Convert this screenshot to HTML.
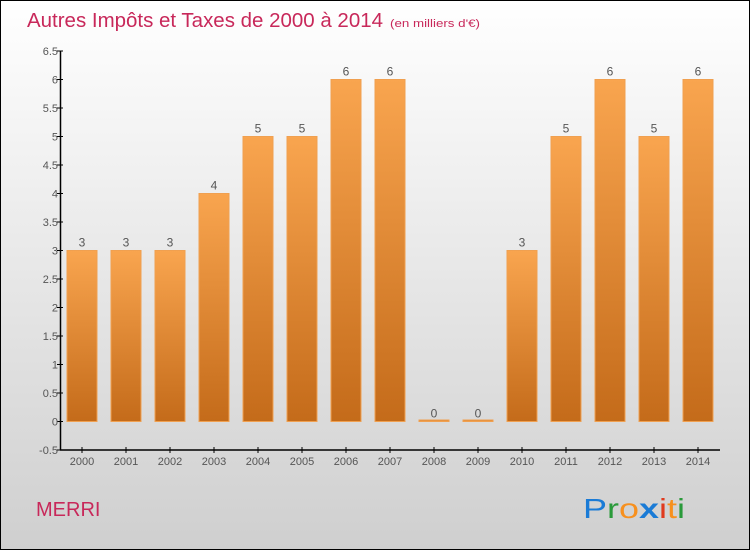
<!DOCTYPE html>
<html><head><meta charset="utf-8"><style>
body{margin:0;}
svg{display:block;font-family:"Liberation Sans",sans-serif;}
</style></head><body>
<svg id="c" width="750" height="550" xmlns="http://www.w3.org/2000/svg">
<defs>
<linearGradient id="bg" x1="0" y1="0" x2="0" y2="1"><stop offset="0" stop-color="#ffffff"/><stop offset="1" stop-color="#cfcfcf"/></linearGradient>
<linearGradient id="bar" x1="0" y1="0" x2="0" y2="1"><stop offset="0" stop-color="#f9a54f"/><stop offset="1" stop-color="#c46b1a"/></linearGradient>
</defs>
<rect x="0.5" y="0.5" width="749" height="549" fill="url(#bg)" stroke="#000"/>
<text x="27" y="27" font-size="20" fill="#c8285a" textLength="356" lengthAdjust="spacingAndGlyphs">Autres Impôts et Taxes de 2000 à 2014</text>
<text x="390" y="27" font-size="11" fill="#c8285a" textLength="90" lengthAdjust="spacingAndGlyphs">(en milliers d'€)</text>
<text x="36" y="516" font-size="20" fill="#c8285a">MERRI</text>
<g id="plot"></g>
<text x="583" y="518" font-size="28" textLength="102" lengthAdjust="spacingAndGlyphs"><tspan fill="#1a7bd6">P</tspan><tspan fill="#2a9a3a">r</tspan><tspan fill="#f7901e">o</tspan><tspan fill="#1a7bd6" font-weight="bold">x</tspan><tspan fill="#e03a1e">i</tspan><tspan fill="#f7901e">t</tspan><tspan fill="#2a9a3a">i</tspan></text>
</svg>
<script>
const years=["2000","2001","2002","2003","2004","2005","2006","2007","2008","2009","2010","2011","2012","2013","2014"];
const values=[3,3,3,4,5,5,6,6,0,0,3,5,6,5,6];
const ticks=[-0.5,0,0.5,1,1.5,2,2.5,3,3.5,4,4.5,5,5.5,6,6.5];
const NS="http://www.w3.org/2000/svg";
const g=document.getElementById('plot');
const y=v=>421.5-v*57;
const x=i=>82+i*44;
function el(t,a,txt){const e=document.createElementNS(NS,t);for(const k in a)e.setAttribute(k,a[k]);if(txt!==undefined)e.textContent=txt;g.appendChild(e);return e;}
ticks.forEach(t=>{
 const l=el('line',{x1:57,x2:63,y1:y(t),y2:y(t),stroke:'#000'});
 
 
 const tx=el('text',{x:58,y:y(t)+4,'font-size':11,fill:'#555','text-anchor':'end'},String(t));
 
 
});
values.forEach((v,i)=>{
 const h=Math.max(y(0)-y(v),1.5);
 const r=el('rect',{x:x(i)-15,y:y(0)-h,width:30,height:h,fill:'url(#bar)',stroke:'#f0a050','stroke-width':1});
 
 
 const lb=el('text',{x:x(i),y:y(v)-4,'font-size':12,fill:'#555','text-anchor':'middle'},String(v));
 
 
 const tk=el('line',{x1:x(i),x2:x(i),y1:447,y2:453,stroke:'#000'});
 
 
 const xl=el('text',{x:x(i),y:465,'font-size':11,fill:'#555','text-anchor':'middle'},years[i]);
 
 
});
const ya=el('line',{x1:60.5,x2:60.5,y1:y(6.5),y2:450,stroke:'#000','stroke-width':1.5});


const xa=el('line',{x1:60,x2:720,y1:450,y2:450,stroke:'#000','stroke-width':1.5});


</script>
</body></html>
